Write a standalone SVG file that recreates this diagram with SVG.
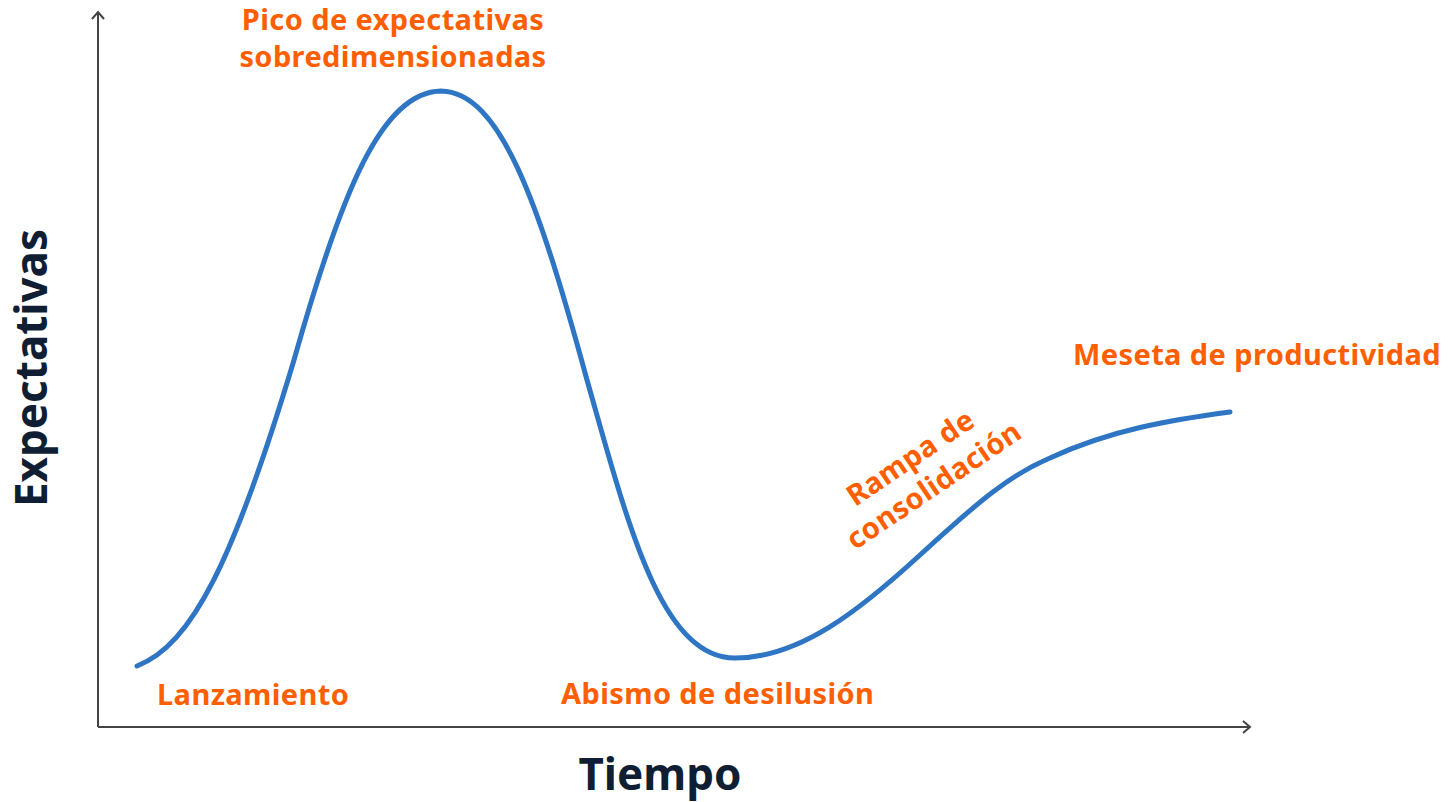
<svg xmlns="http://www.w3.org/2000/svg" width="1451" height="802" viewBox="0 0 1451 802">
<style>
.lbl{font-family:"Noto Sans","Open Sans",sans-serif;font-weight:700;font-size:29px;letter-spacing:0.4px;fill:#FF5F00}
.ax{font-family:"Noto Sans","Open Sans",sans-serif;font-weight:700;font-size:44px;fill:#0F1E33}
.axis{fill:none;stroke:#444;stroke-width:2}
</style>
<defs>
<marker id="arr" markerWidth="14" markerHeight="14" refX="11" refY="7" orient="auto" markerUnits="userSpaceOnUse">
<path d="M4,1 L11,7 L4,13" fill="none" stroke="#444" stroke-width="2"/>
</marker>
</defs>
<rect width="1451" height="802" fill="#fff"/>
<g id="connectors">
<path id="y-axis" class="axis" d="M98,727 L98,12" marker-end="url(#arr)"/>
<path id="x-axis" class="axis" d="M98,727 L1250,727" marker-end="url(#arr)"/>
<path id="hype-curve" d="M137,666 C192,645 234,560 294,360 C342,190 382,92 441,91 C500,92 538,200 587,380 C627,520 660,658 735,658 C800,658 860,610 920,555 C980,500 1010,475 1050,458 C1110,430 1170,420 1230,412" fill="none" stroke="#2E75C4" stroke-width="5" stroke-linecap="round"/>
</g>
<g id="peak"><text class="lbl" x="393" y="30" text-anchor="middle">Pico de expectativas</text><text class="lbl" x="393" y="67" text-anchor="middle">sobredimensionadas</text></g>
<g id="plateau"><text class="lbl" x="1073" y="365">Meseta de productividad</text></g>
<g id="slope"><g transform="translate(916,466) rotate(-34)"><text class="lbl" x="0" y="0" text-anchor="middle">Rampa de</text><text class="lbl" x="4" y="36" text-anchor="middle">consolidación</text></g></g>
<g id="trigger"><text class="lbl" x="157" y="705">Lanzamiento</text></g>
<g id="trough"><text class="lbl" x="561" y="704">Abismo de desilusión</text></g>
<g id="x-label"><text class="ax" x="660" y="790" text-anchor="middle">Tiempo</text></g>
<g id="y-label"><text class="ax" transform="translate(47,368) rotate(-90)" text-anchor="middle">Expectativas</text></g>
</svg>
